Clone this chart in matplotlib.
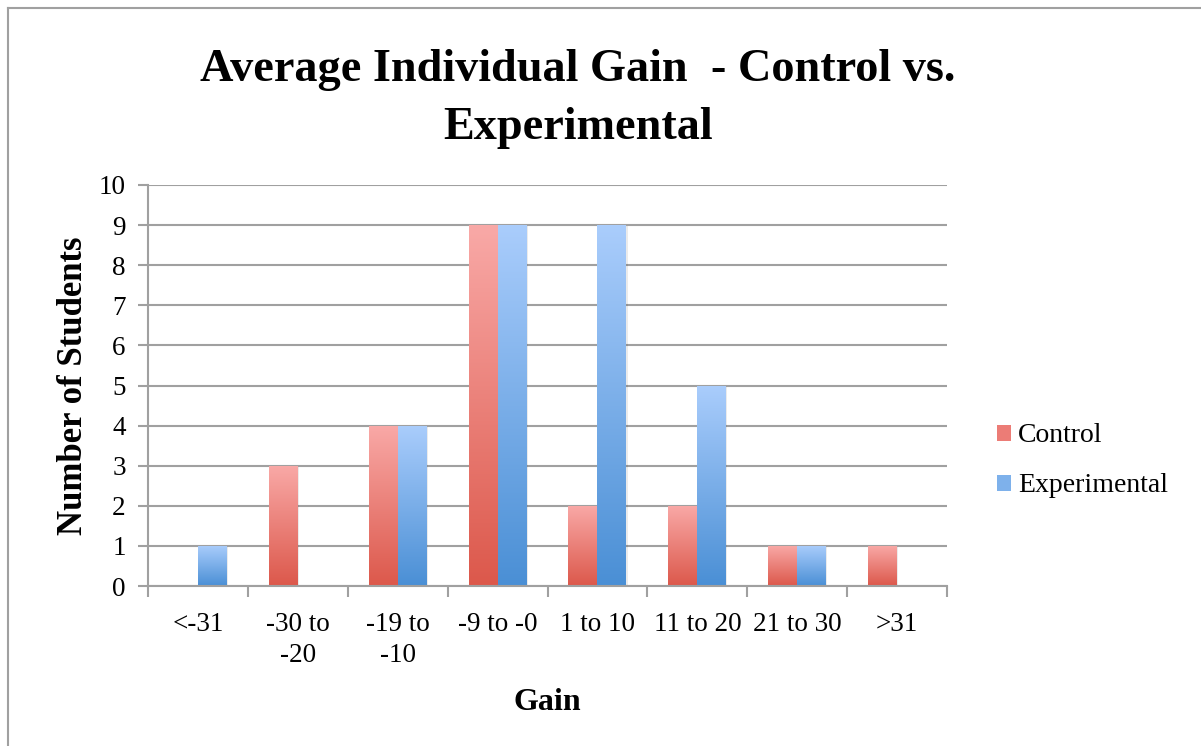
import matplotlib
matplotlib.use("Agg")
import matplotlib.pyplot as plt
import numpy as np
from matplotlib.colors import LinearSegmentedColormap
from matplotlib.patches import Rectangle
from matplotlib.lines import Line2D

categories = ["<-31", "-30 to\n-20", "-19 to\n-10", "-9 to -0", "1 to 10", "11 to 20", "21 to 30", ">31"]
control = [0, 3, 4, 9, 2, 2, 1, 1]
experimental = [1, 0, 4, 9, 9, 5, 1, 0]
series_names = ["Control", "Experimental"]
yticks = list(range(0, 11))

serif = ["Liberation Serif", "DejaVu Serif"]
plt.rcParams['font.family'] = serif

fig = plt.figure(figsize=(12.01, 7.46), dpi=100)
ax = fig.add_axes([148/1201, 1-586/746, (947-148)/1201, (586-185)/746])

red_cmap = LinearSegmentedColormap.from_list("r", ["#DC584B", "#F9A9A7"])
blue_cmap = LinearSegmentedColormap.from_list("b", ["#4A8FD5", "#AACDFC"])

x = np.arange(len(categories))
w = 0.29
bars_c = ax.bar(x - w/2, control, w, facecolor="none", edgecolor="none", zorder=3)
bars_e = ax.bar(x + w/2, experimental, w, facecolor="none", edgecolor="none", zorder=3)

grad = np.linspace(0, 1, 256).reshape(-1, 1)
for bars, cmap in ((bars_c, red_cmap), (bars_e, blue_cmap)):
    for b in bars:
        h = b.get_height()
        if h <= 0:
            continue
        x0 = b.get_x(); bw = b.get_width()
        sh = Rectangle((x0 + 0.012, 0), bw, h - 0.03, facecolor="#000000", alpha=0.08,
                       edgecolor="none", zorder=2.5)
        ax.add_patch(sh)
        im = ax.imshow(grad, extent=[x0, x0 + bw, 0, h], origin="lower", cmap=cmap,
                       aspect="auto", zorder=3, interpolation="bilinear")
        im.set_clip_path(b)

ax.set_xlim(-0.5, len(categories) - 0.5)
ax.set_ylim(0, 10)
ax.set_yticks(yticks)
ax.set_yticklabels([str(v) for v in yticks])
ax.set_xticks(x)
ax.set_xticklabels(categories, linespacing=1.3)
ax.set_xticks(np.arange(-0.5, len(categories) + 0.5, 1), minor=True)

ax.yaxis.grid(True, color="#A0A0A0", linewidth=1.5, zorder=1)
ax.set_axisbelow(True)
for s in ("top", "right"):
    ax.spines[s].set_visible(False)
for s in ("left", "bottom"):
    ax.spines[s].set_color("#A0A0A0")
    ax.spines[s].set_linewidth(1.5)
    ax.spines[s].set_zorder(4)

ax.tick_params(axis="x", which="major", length=0, pad=19, labelsize=19.5)
ax.tick_params(axis="x", which="minor", length=8, width=1.5, color="#A0A0A0", direction="out")
ax.tick_params(axis="y", length=7, width=1.5, color="#A0A0A0", pad=9, labelsize=19.5)

ax.set_ylabel("Number of Students", fontsize=25, fontweight="bold", labelpad=6)
ax.set_xlabel("Gain", fontsize=23, fontweight="bold", labelpad=14)

fig.text(0.481, 0.867, "Average Individual Gain  - Control vs.\nExperimental", ha="center", va="center",
         fontsize=33.3, fontweight="bold", linespacing=1.5)

handles = [Rectangle((0, 0), 1, 1, facecolor="#EC7C76", edgecolor="none"),
           Rectangle((0, 0), 1, 1, facecolor="#7EB1EB", edgecolor="none")]
fig.legend(handles, series_names, loc="center left", bbox_to_anchor=(997/1201, 1-461/746),
           frameon=False, fontsize=20, handlelength=0.5, handleheight=0.5, handletextpad=0.25,
           labelspacing=0.9, borderaxespad=0, borderpad=0)

fig.add_artist(Line2D([8/1201, 8/1201], [0, 1-7.5/746], color="#A0A0A0", linewidth=1.5, transform=fig.transFigure))
fig.add_artist(Line2D([8/1201, 1], [1-7.5/746, 1-7.5/746], color="#A0A0A0", linewidth=1.5, transform=fig.transFigure))

fig.savefig("out.png", dpi=100)
